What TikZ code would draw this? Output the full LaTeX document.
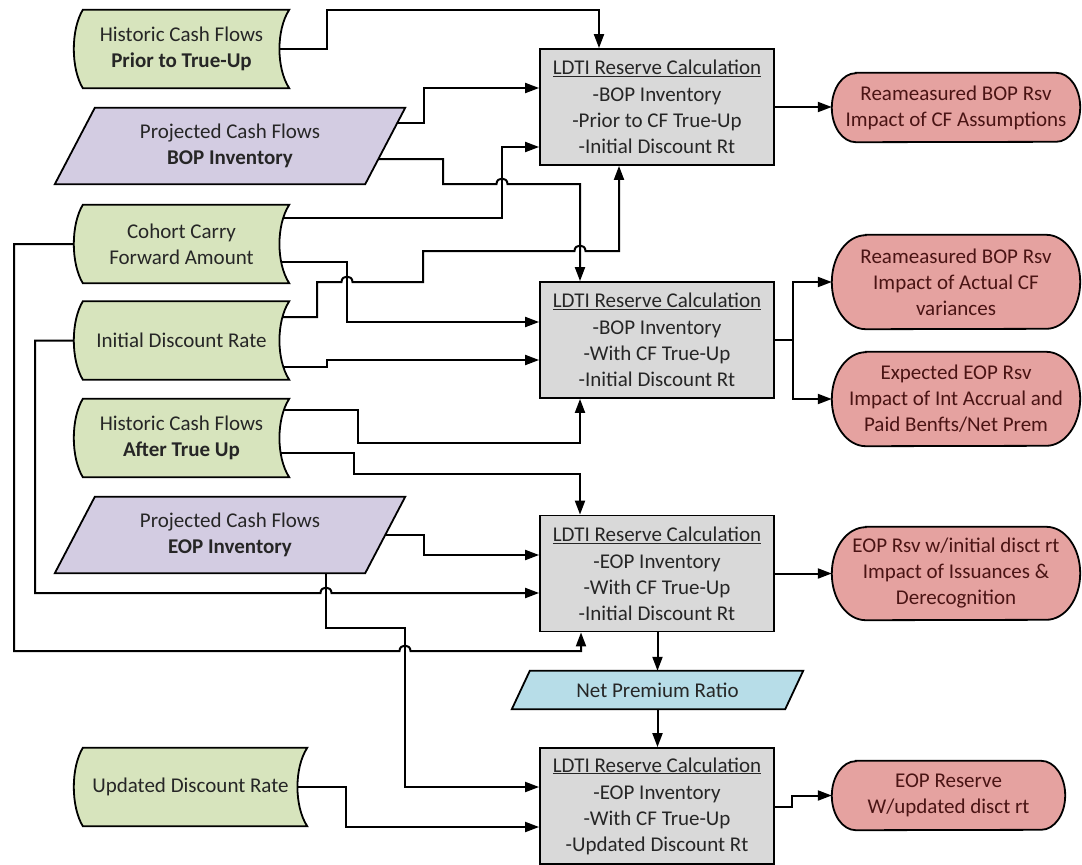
\documentclass[tikz,border=0pt]{standalone}
\usepackage{fontspec}
\setmainfont{Carlito}
\usetikzlibrary{arrows.meta}

\definecolor{sagefill}{HTML}{D7E4BD}
\definecolor{lilacfill}{HTML}{D3CCE2}
\definecolor{boxfill}{HTML}{D9D9D9}
\definecolor{rosefill}{HTML}{E5A2A0}
\definecolor{skyfill}{HTML}{B7DDE8}
\definecolor{inktext}{HTML}{262626}
\definecolor{rosetext}{HTML}{4A1414}

\pgfdeclarelayer{wires}
\pgfdeclarelayer{outlines}
\pgfsetlayers{wires,outlines,main}

% stored-data outline: convex left side, concave right side
\newcommand\storedoutline[1]{%
  \path[shapeline, fill=sagefill]
    ([xshift=9pt]#1.north west) -- (#1.north east)
    .. controls ([xshift=-13pt,yshift=-20pt]#1.north east) and ([xshift=-13pt,yshift=20pt]#1.south east) .. (#1.south east)
    -- ([xshift=9pt]#1.south west)
    .. controls ([xshift=-3pt,yshift=20pt]#1.south west) and ([xshift=-3pt,yshift=-20pt]#1.north west) .. ([xshift=9pt]#1.north west)
    -- cycle;}
% data (parallelogram) outline: name, slant, fill
\newcommand\slantoutline[3]{%
  \path[shapeline, fill=#3]
    ([xshift=#2]#1.north west) -- (#1.north east)
    -- ([xshift=-#2]#1.south east) -- (#1.south west) -- cycle;}
% terminator outline: name, end x radius, end y radius
\newcommand\pilloutline[3]{%
  \path[shapeline, fill=rosefill]
    ([xshift=#2]#1.north west) -- ([xshift=-#2]#1.north east)
    arc[start angle=90, end angle=-90, x radius=#2, y radius=#3]
    -- ([xshift=#2]#1.south west)
    arc[start angle=270, end angle=90, x radius=#2, y radius=#3] -- cycle;}

\begin{document}
\begin{tikzpicture}[x=1pt, y=-1pt,
  font=\fontsize{21}{26}\selectfont,
  shapeline/.style={draw=black, line width=1.8pt},
  wire/.style={draw=black, line width=2pt},
  arr/.style={wire, -{Triangle[length=14pt,width=10pt]}},
  txt/.style={inner sep=0pt, align=center, text=inktext},
  stored/.style={txt, minimum width=215pt, minimum height=78pt},
  slanted/.style={txt, minimum width=350pt, minimum height=76pt},
  outcome/.style={txt, text=rosetext, minimum width=248pt},
  calcbox/.style={draw=black, line width=1.8pt, fill=boxfill,
    minimum width=234pt, minimum height=116pt, inner sep=0pt,
    align=center, text=inktext}]

\useasboundingbox (0,0) rectangle (1082,865);

% ---- inputs ----
\node[stored] (hcfa) at (181.5,49) {Historic Cash Flows\\\textbf{Prior to True-Up}};
\node[slanted] (pbop) at (230,146) {Projected Cash Flows\\\textbf{BOP Inventory}};
\node[stored] (coh) at (181.5,244) {Cohort Carry\\Forward Amount};
\node[stored] (idr) at (181.5,340.5) {Initial Discount Rate};
\node[stored] (hcfb) at (181.5,438) {Historic Cash Flows\\\textbf{After True Up}};
\node[slanted] (peop) at (230,535) {Projected Cash Flows\\\textbf{EOP Inventory}};
\node[stored, minimum width=233pt] (udr) at (190.5,787) {Updated Discount Rate};
\node[txt, minimum width=291pt, minimum height=38pt] (npr) at (657.5,690) {Net Premium Ratio};

% ---- reserve calculations ----
\node[calcbox] (b1) at (657,107) {\underline{LDTI Reserve Calculation}\\[1pt]-BOP Inventory\\-Prior to CF True-Up\\-Initial Discount Rt};
\node[calcbox] (b2) at (657,340) {\underline{LDTI Reserve Calculation}\\[1pt]-BOP Inventory\\-With CF True-Up\\-Initial Discount Rt};
\node[calcbox] (b3) at (657,573.5) {\underline{LDTI Reserve Calculation}\\[1pt]-EOP Inventory\\-With CF True-Up\\-Initial Discount Rt};
\node[calcbox] (b4) at (657,806) {\underline{LDTI Reserve Calculation}\\[1pt]-EOP Inventory\\-With CF True-Up\\-Updated Discount Rt};

% ---- results ----
\node[outcome, minimum height=69pt] (r1) at (956,107.5) {Reameasured BOP Rsv\\Impact of CF Assumptions};
\node[outcome, minimum height=94pt] (r2) at (956,282) {Reameasured BOP Rsv\\Impact of Actual CF\\variances};
\node[outcome, minimum height=94pt] (r3) at (956,399) {Expected EOP Rsv\\Impact of Int Accrual and\\Paid Benfts/Net Prem};
\node[outcome, minimum height=93pt] (r4) at (956,573.5) {EOP Rsv w/initial disct rt\\Impact of Issuances \&\\Derecognition};
\node[outcome, minimum height=69pt, minimum width=233pt] (r5) at (948.5,795.5) {EOP Reserve\\W/updated disct rt};

\begin{pgfonlayer}{outlines}
  \storedoutline{hcfa}
  \storedoutline{coh}
  \storedoutline{idr}
  \storedoutline{hcfb}
  \storedoutline{udr}
  \slantoutline{pbop}{40pt}{lilacfill}
  \slantoutline{peop}{40pt}{lilacfill}
  \slantoutline{npr}{18pt}{skyfill}
  \pilloutline{r1}{24pt}{34.5pt}
  \pilloutline{r2}{34pt}{47pt}
  \pilloutline{r3}{34pt}{47pt}
  \pilloutline{r4}{34pt}{46.5pt}
  \pilloutline{r5}{24pt}{34.5pt}
\end{pgfonlayer}

\begin{pgfonlayer}{wires}
  \fill[white] (0,0) rectangle (1082,865);
  % into the first calculation
  \draw[arr] (hcfa.center) -- (327,49) -- (327,10) -- (599,10) -- (b1.north -| 599,0);
  \draw[arr] (pbop.center |- 0,123) -- (424,123) -- (424,88) -- (b1.west |- 0,88);
  \draw[arr] (coh.center |- 0,218) -- (502,218) -- (502,147) -- (b1.west |- 0,147);
  \draw[arr] (idr.center |- 0,317) -- (317,317) -- (317,282)
    -- (341.5,282) .. controls (341.5,274.7) and (352.5,274.7) .. (352.5,282)
    -- (423,282) -- (423,251)
    -- (574.5,251) .. controls (574.5,243.7) and (585.5,243.7) .. (585.5,251)
    -- (619,251) -- (b1.south -| 619,0);
  % into the second calculation
  \draw[arr] (pbop.center |- 0,159) -- (443,159) -- (443,184)
    -- (496.5,184) .. controls (496.5,176.7) and (507.5,176.7) .. (507.5,184)
    -- (580,184) -- (b2.north -| 580,0);
  \draw[arr] (coh.center |- 0,262) -- (347,262) -- (347,322) -- (b2.west |- 0,322);
  \draw[arr] (idr.center |- 0,367) -- (327,367) -- (327,360) -- (b2.west |- 0,360);
  \draw[arr] (hcfb.center |- 0,410) -- (358,410) -- (358,443) -- (580,443) -- (b2.south -| 580,0);
  % into the third calculation
  \draw[arr] (hcfb.center |- 0,453) -- (354,453) -- (354,474) -- (580,474) -- (b3.north -| 580,0);
  \draw[arr] (peop.center |- 0,535) -- (424,535) -- (424,555) -- (b3.west |- 0,555);
  \draw[arr] (idr.center) -- (35,340.5) -- (35,593)
    -- (320.5,593) .. controls (320.5,585.7) and (331.5,585.7) .. (331.5,593)
    -- (b3.west |- 0,593);
  \draw[arr] (coh.center) -- (14,244) -- (14,651)
    -- (399.5,651) .. controls (399.5,643.7) and (410.5,643.7) .. (410.5,651)
    -- (581,651) -- (b3.south -| 581,0);
  % into the fourth calculation
  \draw[arr] (peop.center -| 326,0) -- (326,628) -- (405,628) -- (405,787) -- (b4.west |- 0,787);
  \draw[arr] (udr.center) -- (346,787) -- (346,827) -- (b4.west |- 0,827);
  \draw[arr] (b3.south -| npr.center) -- (npr.north);
  \draw[arr] (npr.south) -- (b4.north -| npr.center);
  % results
  \draw[arr] (b1.east) -- (b1.east -| r1.west);
  \draw[arr] (b2.east) -- (793,340) -- (793,282) -- (r2.west);
  \draw[arr] (793,340) -- (793,399) -- (r3.west);
  \draw[arr] (b3.east) -- (r4.west);
  \draw[arr] (b4.east |- 0,807) -- (792,807) -- (792,795.5) -- (r5.west);
\end{pgfonlayer}
\end{tikzpicture}
\end{document}
